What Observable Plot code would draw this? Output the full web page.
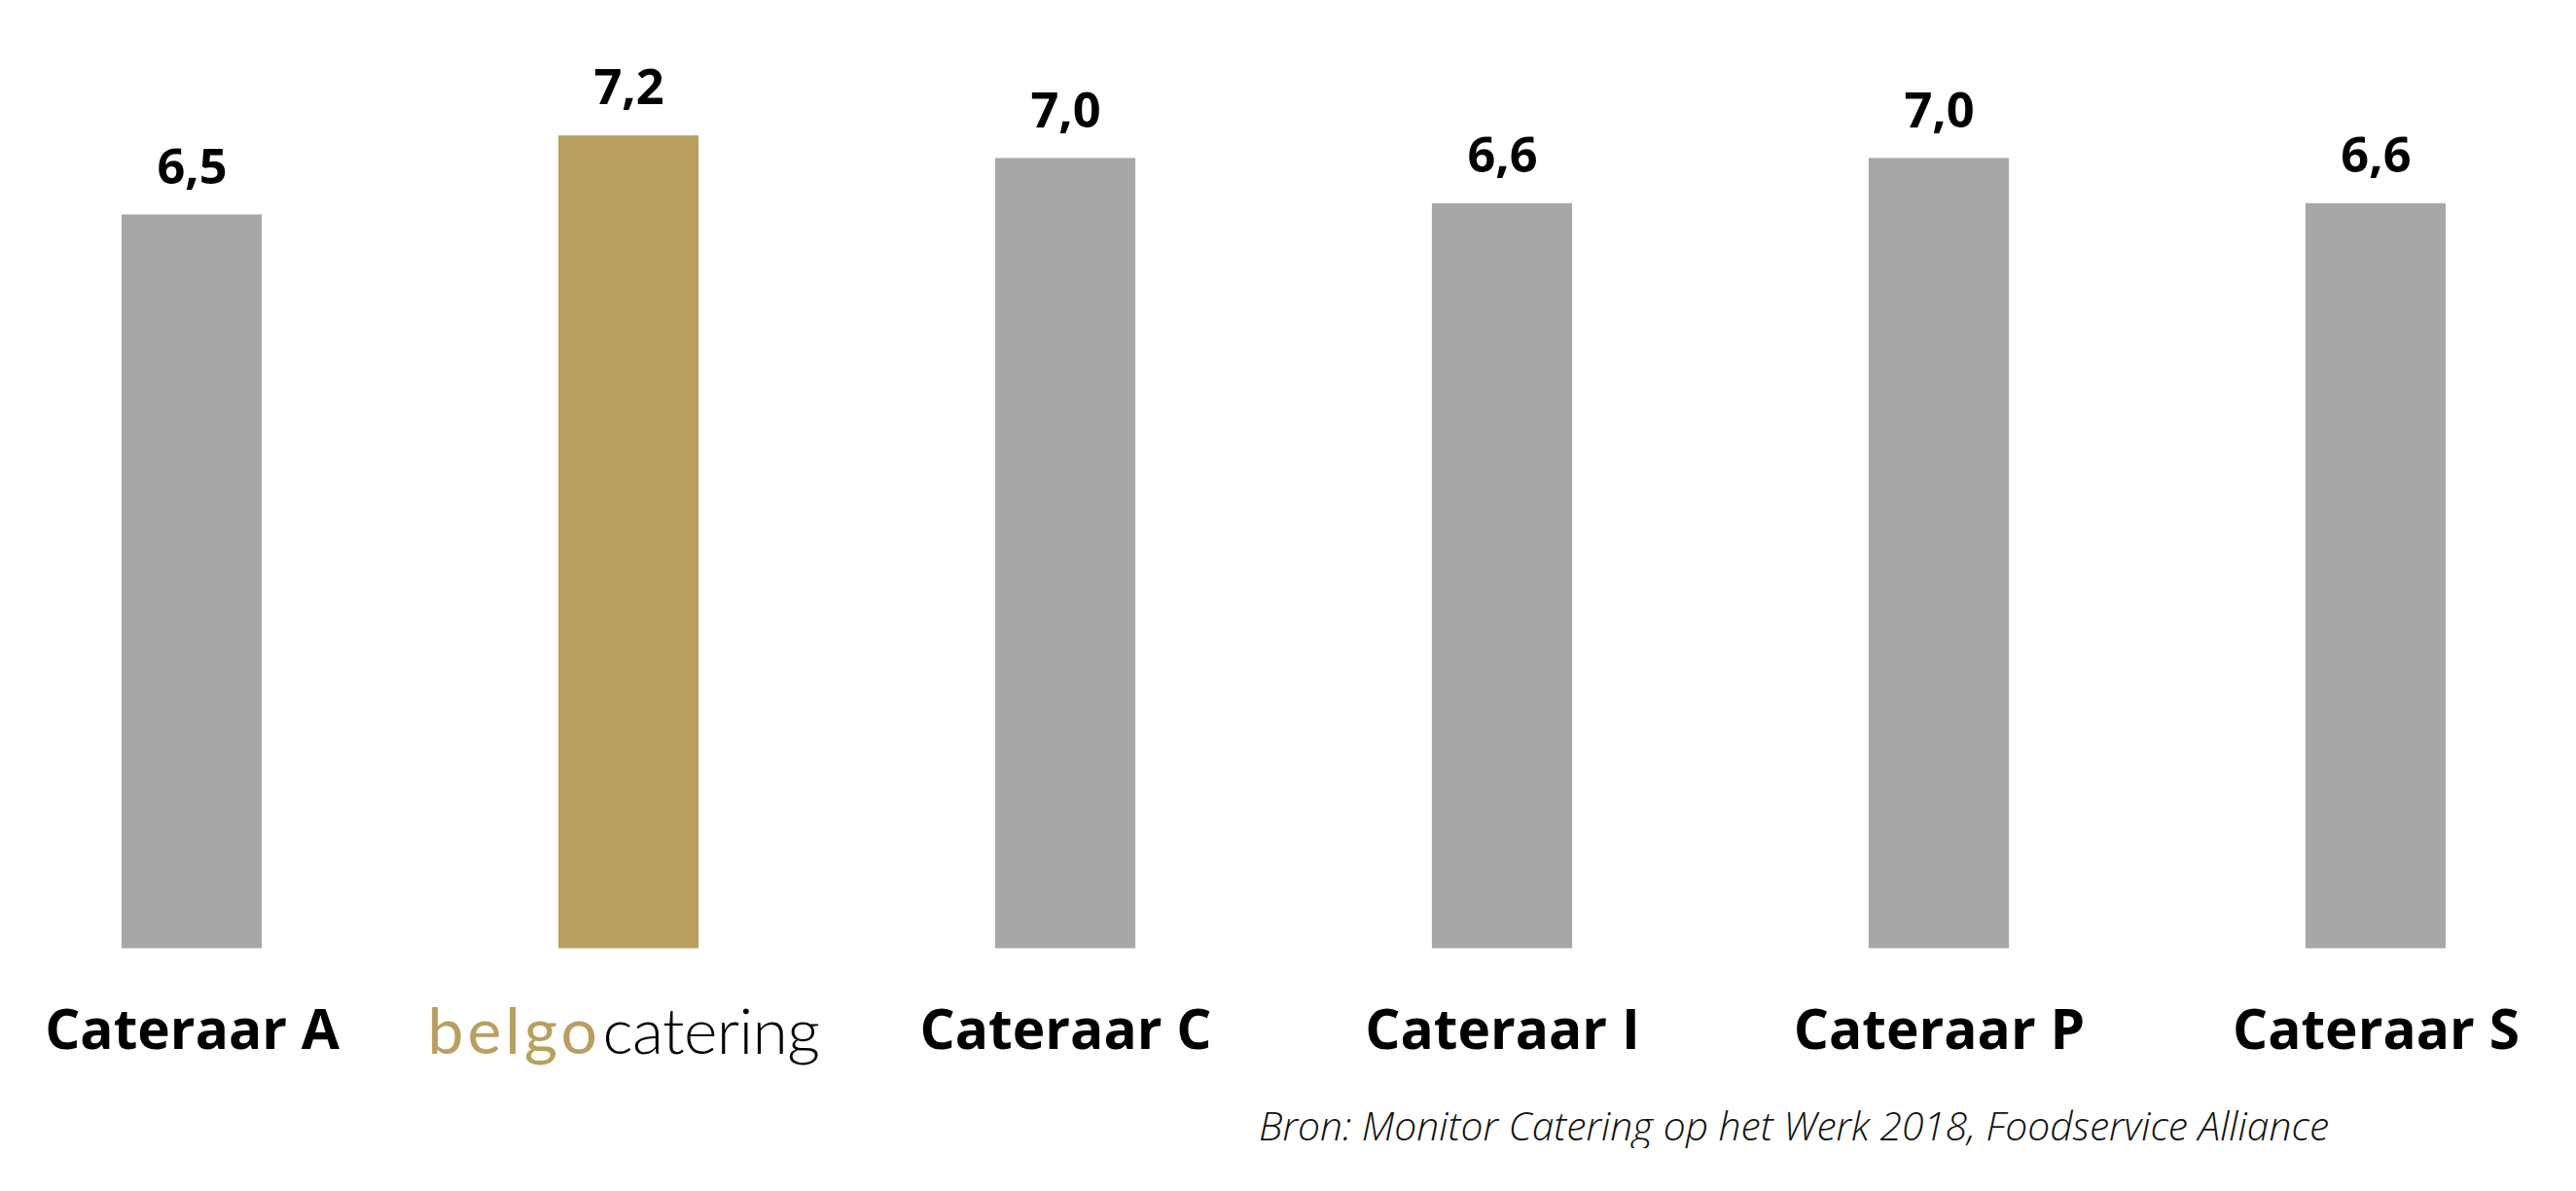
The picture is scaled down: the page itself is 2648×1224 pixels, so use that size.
<!DOCTYPE html>
<html>
<head>
<meta charset="utf-8">
<script src="https://cdn.jsdelivr.net/npm/d3@7"></script>
<script src="https://cdn.jsdelivr.net/npm/@observablehq/plot@0.6"></script>
<style>
  html, body { margin: 0; padding: 0; background: #fff; }
  #chart svg { display: block; }
  #caption {
    font-family: "Open Sans", sans-serif;
    font-style: italic;
    font-weight: 300;
    font-size: 40.8px;
    color: #111;
    padding-left: 1294px;
    margin-top: 12px;
    line-height: 48px;
    white-space: nowrap;
  }
</style>
</head>
<body>
<div id="chart"></div>
<div id="caption"></div>
<script>
const categories = ["Cateraar A", "belgocatering", "Cateraar C", "Cateraar I", "Cateraar P", "Cateraar S"];
const scores = [6.5, 7.2, 7.0, 6.6, 7.0, 6.6];
const highlight = "belgocatering";
const logoParts = ["belgo", "catering"];
const captionText = "Bron: Monitor Catering op het Werk 2018, Foodservice Alliance";

const data = categories.map((c, i) => ({category: c, score: scores[i], label: d3.format(".1f")(scores[i]).replace(".", ",")}));

const gold = "#B99F5F";
const grey = "#A7A7A6";

const chart = Plot.plot({
  width: 2648,
  height: 1120,
  marginLeft: 125,
  marginRight: 134,
  marginTop: 0,
  marginBottom: 145.5,
  x: {domain: categories, paddingInner: 0.679, paddingOuter: 0, round: false, axis: null},
  y: {domain: [0, 8.4], axis: null},
  style: {background: "#fff"},
  marks: [
    Plot.barY(data, {x: "category", y: "score", fill: d => d.category === highlight ? gold : grey}),
    Plot.text(data, {x: "category", y: "score", text: "label", dy: -48.5, lineAnchor: "middle",
      fontFamily: "Open Sans", fontWeight: 700, fontSize: 50.5, fill: "#000"}),
    Plot.text(data.filter(d => d.category !== highlight), {x: "category", y: 0, text: "category", dy: 84.5, lineAnchor: "middle",
      fontFamily: "Open Sans", fontWeight: 700, fontSize: 56.8, fill: "#000"}),
    Plot.text(data.filter(d => d.category === highlight), {x: "category", y: 0, text: () => logoParts[0], dy: 87, dx: -28.5,
      textAnchor: "end", lineAnchor: "middle", fontFamily: "Lato", fontWeight: 400, fontSize: 66, fill: gold}),
    Plot.text(data.filter(d => d.category === highlight), {x: "category", y: 0, text: () => logoParts[1], dy: 87, dx: -27,
      textAnchor: "start", lineAnchor: "middle", fontFamily: "Lato", fontWeight: 300, fontSize: 66, fill: "#000"})
  ]
});
d3.select(chart).selectAll("text")
  .filter(function() { return this.textContent === logoParts[0]; })
  .attr("letter-spacing", 4);
d3.select(chart).selectAll("text")
  .filter(function() { return this.textContent === logoParts[1]; })
  .attr("letter-spacing", -0.6);
document.getElementById("chart").append(chart);
document.getElementById("caption").textContent = captionText;
</script>
</body>
</html>
